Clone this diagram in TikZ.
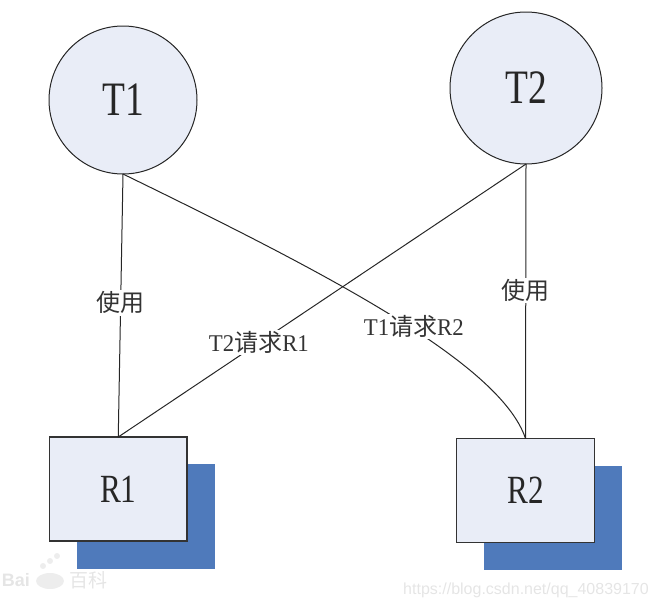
\documentclass[tikz,border=0pt]{standalone}
\usepackage{fontspec}
\setmainfont[FakeStretch=0.78]{Liberation Serif}
\setsansfont{Liberation Sans}
\newfontfamily\lblfont[FakeStretch=0.95]{Liberation Serif}
\newfontfamily\cjk{Noto Sans CJK SC}
\usetikzlibrary{positioning}
\definecolor{paleblue}{HTML}{E9EDF7}
\definecolor{shadeblue}{HTML}{4F7ABB}
\begin{document}
\begin{tikzpicture}[x=1pt,y=-1pt]
 	\tikzstyle{task}=[circle, inner sep=0pt, outer sep=0pt, draw=black!85, line width=1pt, fill=paleblue, text=black!85, font=\fontsize{48}{48}\selectfont]
 	\tikzstyle{res}=[rectangle, inner sep=0pt, outer sep=0pt, minimum width=137.5pt, minimum height=104pt, draw=black!80, line width=1.2pt, fill=paleblue, text=black!85, font=\fontsize{40}{40}\selectfont]
 	\tikzstyle{backbox}=[rectangle, inner sep=0pt, outer sep=0pt, minimum width=138pt, minimum height=104.5pt, fill=shadeblue]
 	\tikzstyle{connect}=[black!85, line width=1pt]
 	\tikzstyle{lbl}=[fill=white, inner sep=1.5pt, text=black!80, font=\lblfont\fontsize{24}{26}\selectfont]
 	\tikzstyle{wmark}=[text=black!10]
 	\useasboundingbox (0,0) rectangle (658,608);
 	\node[task, minimum size=148pt] (t1) at (123,100) {T1};
 	\node[task, minimum size=152pt] (t2) at (526,88) {T2};
 	\node[backbox] (s1) at (146,516.5) {};
 	\node[backbox] (s2) at (553,518) {};
 	\node[res] (r1) at (118.25,489) {R1};
 	\node[res] (r2) at (525.5,490.5) {R2};
 	\draw[connect] (t1.south) -- node[lbl, pos=0.49] (use1) {\cjk 使用} (r1.north);
 	\draw[connect] (t2.south) -- node[lbl, pos=0.46] (use2) {\cjk 使用} (r2.north);
 	\draw[connect] (t2.south) -- node[lbl, pos=0.655] (req1) {T2{\cjk 请求}R1} (r1.north);
 	\draw[connect] (t1.south) .. controls (320,270) and (500,362) .. node[lbl, pos=0.56, yshift=3pt] (req2) {T1{\cjk 请求}R2} (r2.north);
 	\node[wmark, font=\sffamily\fontsize{16}{17}\selectfont] (site) at (526,590) {https://blog.csdn.net/qq\_40839170};
 	\node[wmark, font=\sffamily\bfseries\fontsize{18}{18}\selectfont] (bai) at (16,580) {Bai};
 	\node[wmark, font=\cjk\fontsize{19}{19}\selectfont] (bk) at (88,580) {百科};
 	\fill[black!7] (50,581) ellipse (14pt and 8pt)
 	(43,566) circle (3pt) (50,561) circle (3pt) (57,556) circle (3pt);
\end{tikzpicture}
\end{document}
